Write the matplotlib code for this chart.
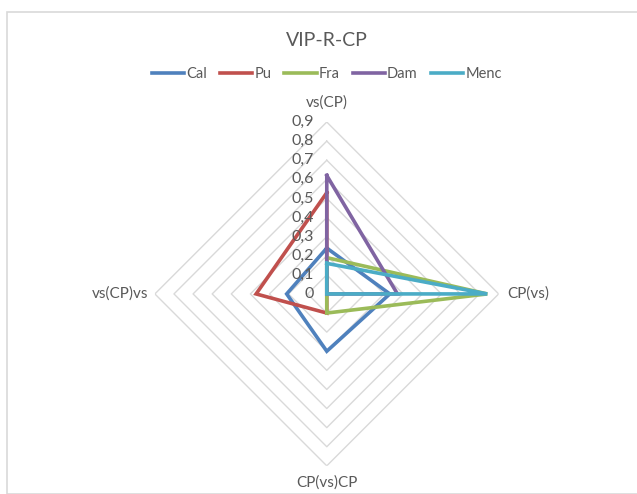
import numpy as np
import matplotlib
matplotlib.use("Agg")
import matplotlib.pyplot as plt
from matplotlib.patches import Rectangle

categories = ["vs(CP)", "CP(vs)", "CP(vs)CP", "vs(CP)vs"]
series_names = ["Cal", "Pu", "Fra", "Dam", "Menc"]
cal = [0.24, 0.33, 0.30, 0.21]
pu = [0.53, 0.00, 0.10, 0.37]
fra = [0.19, 0.84, 0.10, 0.00]
dam = [0.62, 0.37, 0.00, 0.00]
menc = [0.16, 0.84, 0.00, 0.00]
colors = ["#4F81BD", "#C0504D", "#9BBB59", "#8064A2", "#4BACC6"]
levels = [0.1, 0.2, 0.3, 0.4, 0.5, 0.6, 0.7, 0.8, 0.9]
level_labels = ["0", "0,1", "0,2", "0,3", "0,4", "0,5", "0,6", "0,7", "0,8", "0,9"]

plt.rcParams["font.family"] = ["Lato", "DejaVu Sans"]
text_color = "#595959"

fig = plt.figure(figsize=(6.37, 4.94), dpi=100)
fig.patches.append(Rectangle((7 / 637, 0), 1, 1 - 12 / 494, transform=fig.transFigure,
                             fill=False, edgecolor="#D9D9D9", linewidth=1.2))

ax = fig.add_axes([0.243, 0.057, 0.540, 0.696], projection="polar")
ax.set_theta_zero_location("N")
ax.set_theta_direction(-1)
ax.set_ylim(0, 0.9)
ax.grid(False)
ax.set_xticks([])
ax.set_yticks([])
ax.spines["polar"].set_visible(False)

angles = np.linspace(0, 2 * np.pi, len(categories), endpoint=False)
closed = np.append(angles, angles[0])

for lv in levels:
    ax.plot(closed, [lv] * len(closed), color="#D9D9D9", lw=1, zorder=1)

for name, vals, c in zip(series_names, [cal, pu, fra, dam, menc], colors):
    ax.plot(closed, vals + vals[:1], color=c, lw=2.6, label=name, zorder=3,
            solid_joinstyle="miter")

for i, lab in enumerate(level_labels):
    r = i * 0.1
    ax.annotate(lab, xy=(0, r), xytext=(-9, 0), textcoords="offset points",
                ha="right", va="center", fontsize=11.5, color=text_color)

offsets = [(0, 9, "center", "bottom"), (6, 0, "left", "center"),
           (0, -7, "center", "top"), (-5, 0, "right", "center")]
for ang, cat, (dx, dy, ha, va) in zip(angles, categories, offsets):
    ax.annotate(cat, xy=(ang, 0.9), xytext=(dx, dy), textcoords="offset points",
                ha=ha, va=va, fontsize=11, color=text_color)

fig.text(0.513, 1 - 40 / 494, "VIP-R-CP", ha="center", va="center",
         fontsize=14, color=text_color)
fig.legend(loc="center", bbox_to_anchor=(0.513, 1 - 74 / 494), ncol=5,
           frameon=False, fontsize=10.5, handlelength=2.2, handletextpad=0.15,
           columnspacing=0.9, labelcolor=text_color)

fig.savefig("out.png", dpi=100)
